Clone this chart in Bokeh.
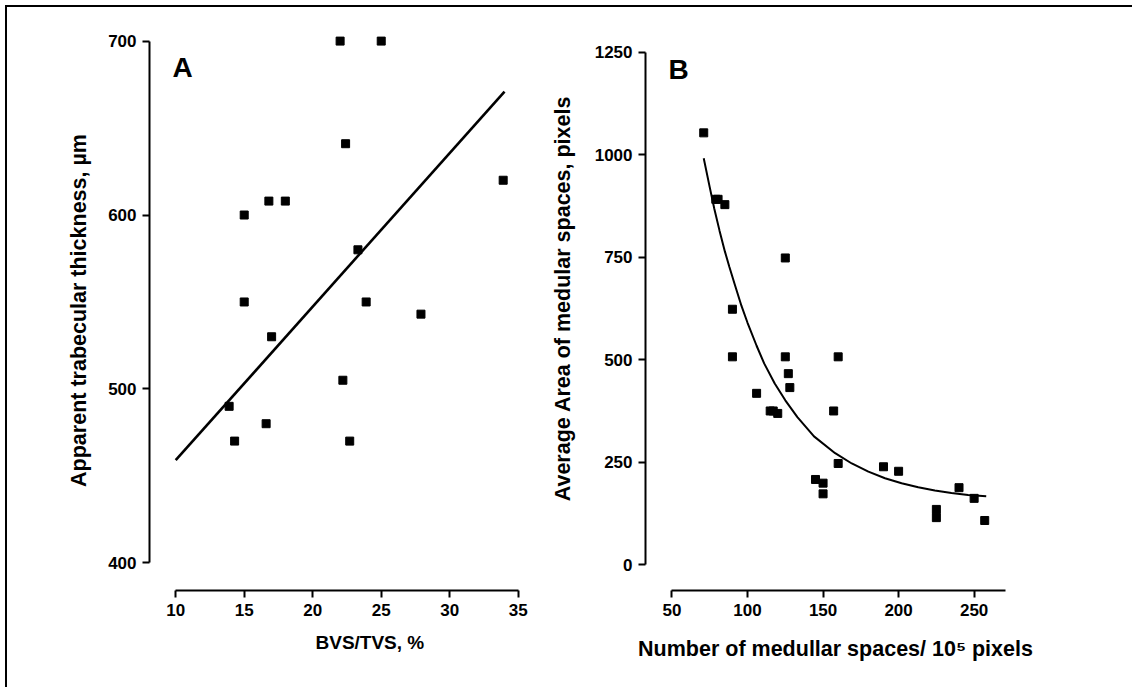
from bokeh.plotting import figure
from bokeh.layouts import row, column
from bokeh.models import FixedTicker, Label, Range1d, Title, Div
from bokeh.embed import file_html
from bokeh.resources import INLINE

# ---------------- data ----------------
# Panel A
a_x = [22, 25, 22.4, 33.9, 16.8, 18.0, 15.0, 23.3, 15.0, 23.9, 27.9, 17.0, 22.2, 13.9, 16.6, 14.3, 22.7]
a_y = [700, 700, 641, 620, 608, 608, 600, 580, 550, 550, 543, 530, 505, 490, 480, 470, 470]
a_fit_x = [10, 34]
a_fit_y = [459, 671]
a_xticks = [10, 15, 20, 25, 30, 35]
a_yticks = [400, 500, 600, 700]

# Panel B
b_x = [71, 79, 80.5, 85, 125, 90, 90, 125, 160, 127, 128, 106, 115, 117, 120, 157,
       160, 190, 200, 145, 150, 150, 240, 250, 225, 225, 257]
b_y = [1053, 891, 891, 878, 748, 623, 507, 507, 507, 466, 432, 418, 375, 375, 369, 375,
       247, 239, 228, 208, 199, 173, 188, 162, 135, 115, 108]
b_fit_x = [71, 75, 78, 81.5, 85, 88, 91.5, 96, 100, 106, 111, 118, 125, 133, 144, 158,
           169, 180, 191, 202, 213, 224, 235, 246, 258]
b_fit_y = [991, 920, 868, 814, 764, 726, 684, 631, 590, 534, 491, 442, 401, 360, 313, 272,
           247, 227, 211, 199, 189, 181, 175, 170, 167]
b_xticks = [50, 100, 150, 200, 250]
b_yticks = [0, 250, 500, 750, 1000, 1250]

FONT = "Liberation Sans"
NBSP = "\u00a0"


def style(p, xticks, yticks, xbounds, ybounds, xlab, ylab, xlab_size, ylab_size,
          xlab_standoff, ylab_standoff):
    p.grid.visible = False
    p.outline_line_color = None
    p.background_fill_color = "white"
    p.border_fill_color = "white"
    p.xaxis.ticker = FixedTicker(ticks=xticks)
    p.yaxis.ticker = FixedTicker(ticks=yticks)
    p.xaxis.bounds = xbounds
    p.yaxis.bounds = ybounds
    if xlab:
        p.xaxis.axis_label = xlab
    p.yaxis.axis_label = ylab
    p.xaxis.axis_label_text_font_size = xlab_size
    p.yaxis.axis_label_text_font_size = ylab_size
    p.xaxis.axis_label_standoff = xlab_standoff
    p.yaxis.axis_label_standoff = ylab_standoff
    for ax in (p.xaxis, p.yaxis):
        ax.axis_line_width = 2
        ax.axis_line_color = "black"
        ax.major_tick_line_width = 2
        ax.major_tick_line_color = "black"
        ax.major_tick_out = 7
        ax.major_tick_in = 0
        ax.minor_tick_line_color = None
        ax.major_label_text_font = FONT
        ax.major_label_text_font_size = "17px"
        ax.major_label_text_font_style = "bold"
        ax.major_label_text_color = "black"
        ax.major_label_standoff = 6
        ax.axis_label_text_font = FONT
        ax.axis_label_text_font_style = "bold"
        ax.axis_label_text_color = "black"


# ---------------- panel A ----------------
pA = figure(title=None, frame_width=383, frame_height=560,
            min_border_left=149, min_border_right=15,
            min_border_top=30, min_border_bottom=80,
            x_range=Range1d(8.088, 36.04), y_range=Range1d(384.1, 706.1),
            output_backend="svg", toolbar_location=None)
style(pA, a_xticks, a_yticks, (10, 35), (400, 700),
      None, "Apparent trabecular thickness, µm", "19px", "21.5px", 10, 14)
pA.line(a_fit_x, a_fit_y, line_color="black", line_width=2.6)
pA.scatter(a_x, a_y, marker="square", size=8, fill_color="black", line_color="black")
pA.add_layout(Label(x=9.77, y=684.8, text="A", text_font=FONT, text_font_size="28px",
                    text_font_style="bold", text_color="black", text_baseline="alphabetic"))
# x-axis title of panel A (it sits right of the axis centre in the original)
pA.add_layout(Title(text="BVS/TVS, %", align="left", offset=166, standoff=22,
                    text_font=FONT, text_font_size="19px", text_font_style="bold",
                    text_color="black"), "below")

# ---------------- panel B ----------------
pB = figure(title=None, frame_width=380, frame_height=560,
            min_border_left=96, min_border_right=93,
            min_border_top=30, min_border_bottom=80,
            x_range=Range1d(32.46, 284.0), y_range=Range1d(-62.65, 1302.5),
            output_backend="svg", toolbar_location=None)
style(pB, b_xticks, b_yticks, (50, 271), (0, 1250),
      "Number of medullar spaces/ 10\u2075 pixels",
      NBSP * 4 + "Average Area of medular spaces, pixels",
      "21.5px", "21.5px", 18, 17)
pB.line(b_fit_x, b_fit_y, line_color="black", line_width=2)
pB.scatter(b_x, b_y, marker="square", size=8, fill_color="black", line_color="black")
pB.add_layout(Label(x=47.7, y=1208, text="B", text_font=FONT, text_font_size="28px",
                    text_font_style="bold", text_color="black", text_baseline="alphabetic"))

# thin frame lines along the top and left edges of the original figure
frame_lines = Div(text='<div style="position:fixed;left:5px;top:5px;width:1300px;height:900px;'
                       'border-top:2px solid #000;border-left:2px solid #000;'
                       'pointer-events:none;"></div>',
                  width=1, height=1)

layout = column(row(pA, pB), frame_lines)

open("out.html", "w").write(file_html(layout, INLINE))
